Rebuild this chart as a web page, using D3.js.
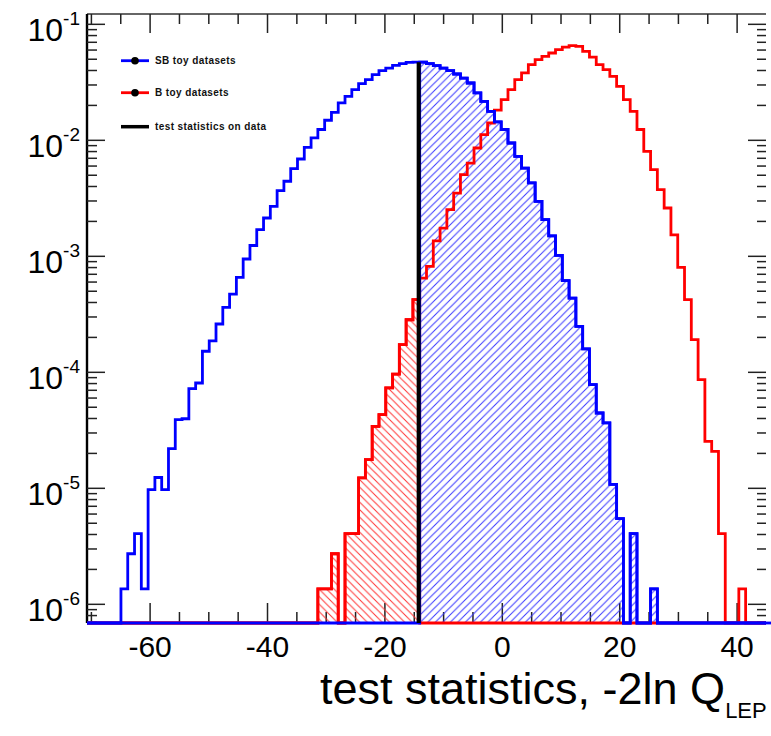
<!DOCTYPE html>
<html>
<head>
<meta charset="utf-8">
<script src="https://cdnjs.cloudflare.com/ajax/libs/d3/7.8.5/d3.min.js"></script>
<style>
  html, body { margin: 0; padding: 0; background: #fff; }
  svg { display: block; }
  text { font-family: "Liberation Sans", Arial, Helvetica, sans-serif; }
</style>
</head>
<body>
<svg id="chart" width="771" height="736"></svg>
<script>
// ---------------- data ----------------
const xMin = -70.75;
const xMax = 44.92;
const nBins = 100;

// SB toy datasets (normalised), one value per bin
const sbValues = [
  0, 0, 0, 0, 0, 1.36e-6, 2.73e-6, 4.07e-6, 1.36e-6, 9.75e-6,
  1.24e-5, 9.75e-6, 2.2e-5, 3.91e-5, 3.98e-5, 7.23e-5, 8.09e-5, 1.52e-4, 1.87e-4, 2.61e-4,
  3.63e-4, 4.73e-4, 6.59e-4, 9.48e-4, 1.24e-3, 1.70e-3, 2.14e-3, 2.70e-3, 3.68e-3, 4.44e-3,
  5.70e-3, 6.90e-3, 8.71e-3, 1.05e-2, 1.24e-2, 1.49e-2, 1.74e-2, 2.10e-2, 2.39e-2, 2.74e-2,
  3.08e-2, 3.34e-2, 3.68e-2, 3.99e-2, 4.20e-2, 4.43e-2, 4.58e-2, 4.70e-2, 4.72e-2, 4.72e-2,
  4.58e-2, 4.41e-2, 4.20e-2, 3.99e-2, 3.73e-2, 3.44e-2, 3.12e-2, 2.56e-2, 2.17e-2, 1.78e-2,
  1.44e-2, 1.24e-2, 9.48e-3, 7.28e-3, 5.77e-3, 4.29e-3, 2.98e-3, 2.07e-3, 1.50e-3, 1.02e-3,
  6.18e-4, 4.36e-4, 2.49e-4, 1.59e-4, 7.83e-5, 4.46e-5, 3.66e-5, 1.08e-5, 5.48e-6, 0,
  4.07e-6, 0, 0, 1.36e-6, 0, 0, 0, 0, 0, 0,
  0, 0, 0, 0, 0, 0, 0, 0, 0, 0
];

// B toy datasets (normalised), one value per bin
const bValues = [
  0, 0, 0, 0, 0, 0, 0, 0, 0, 0,
  0, 0, 0, 0, 0, 0, 0, 0, 0, 0,
  0, 0, 0, 0, 0, 0, 0, 0, 0, 0,
  0, 0, 0, 0, 1.36e-6, 1.36e-6, 2.73e-6, 0, 4.07e-6, 4.07e-6,
  1.23e-5, 1.77e-5, 3.42e-5, 4.31e-5, 7.33e-5, 9.66e-5, 1.73e-4, 2.84e-4, 4.24e-4, 6.50e-4,
  8.20e-4, 1.36e-3, 1.75e-3, 2.53e-3, 3.51e-3, 5.06e-3, 6.37e-3, 8.59e-3, 1.12e-2, 1.41e-2,
  1.82e-2, 2.24e-2, 2.74e-2, 3.34e-2, 3.81e-2, 4.49e-2, 4.97e-2, 5.30e-2, 5.66e-2, 6.05e-2,
  6.37e-2, 6.55e-2, 6.46e-2, 5.85e-2, 5.22e-2, 4.49e-2, 4.07e-2, 3.56e-2, 2.92e-2, 2.24e-2,
  1.78e-2, 1.24e-2, 8.04e-3, 5.59e-3, 3.76e-3, 2.61e-3, 1.53e-3, 8.04e-4, 4.24e-4, 1.91e-4,
  8.65e-5, 2.54e-5, 2.08e-5, 4.07e-6, 0, 0, 1.36e-6, 0, 0, 0
];

const dataValue = -14.25;      // test statistics on data
const dataLineTop = 0.0472;
const xTickValues = [-60, -40, -20, 0, 20, 40];
const xMinorStep = 5;
const yTickExponents = [-6, -5, -4, -3, -2, -1];
const yDomain = [Math.pow(10, -6.161), Math.pow(10, -0.911)];
const legendLabels = ["SB toy datasets", "B toy datasets", "test statistics on data"];
const xTitle = "test statistics, -2ln Q";
const xTitleSub = "LEP";

// ---------------- layout ----------------
const frame = { left: 87, right: 766, top: 14, bottom: 623 };
const svg = d3.select("#chart");

const x = d3.scaleLinear().domain([xMin, xMax]).range([frame.left, frame.right]);
const y = d3.scaleLog().domain(yDomain).range([frame.bottom, frame.top]);
const binW = (xMax - xMin) / nBins;
const edge = i => x(xMin + i * binW);
const yv = v => (v > 0 ? Math.max(frame.top, Math.min(frame.bottom, y(v))) : frame.bottom);

const dataBin = Math.floor((dataValue - xMin) / binW); // bin containing the data value
const sbHatch = sbValues.map((v, i) => (i > dataBin ? v : 0));
const bHatch = bValues.map((v, i) => (i <= dataBin ? v : 0));

function stepPath(vals) {
  const p = d3.path();
  p.moveTo(edge(0), frame.bottom);
  vals.forEach((v, i) => {
    p.lineTo(edge(i), yv(v));
    p.lineTo(edge(i + 1), yv(v));
  });
  p.lineTo(edge(vals.length), frame.bottom);
  return p.toString();
}

// hatch patterns
const defs = svg.append("defs");
defs.append("pattern").attr("id", "hatchBlue").attr("patternUnits", "userSpaceOnUse")
  .attr("width", 7.5).attr("height", 7.5)
  .append("path").attr("d", "M-1,1 l2,-2 M0,7.5 l7.5,-7.5 M6.5,8.5 l2,-2")
  .attr("stroke", "#3a3aff").attr("stroke-width", 1).attr("fill", "none");
defs.append("pattern").attr("id", "hatchRed").attr("patternUnits", "userSpaceOnUse")
  .attr("width", 7.5).attr("height", 7.5)
  .append("path").attr("d", "M-1,6.5 l2,2 M0,0 l7.5,7.5 M6.5,-1 l2,2")
  .attr("stroke", "#ff3333").attr("stroke-width", 1).attr("fill", "none");
defs.append("clipPath").attr("id", "frameClip").append("rect")
  .attr("x", frame.left).attr("y", frame.top)
  .attr("width", frame.right - frame.left + 6).attr("height", frame.bottom - frame.top + 2);

// frame axis lines
svg.append("line").attr("x1", frame.left).attr("x2", frame.right)
  .attr("y1", frame.top).attr("y2", frame.top).attr("stroke", "#333").attr("stroke-width", 1.4);
svg.append("line").attr("x1", frame.left).attr("x2", frame.left)
  .attr("y1", frame.top).attr("y2", frame.bottom).attr("stroke", "#000").attr("stroke-width", 2.4);
svg.append("line").attr("x1", frame.left).attr("x2", frame.right)
  .attr("y1", frame.bottom).attr("y2", frame.bottom).attr("stroke", "#000").attr("stroke-width", 2);

// x ticks (bottom and top)
const xMinor = d3.range(-70, xMax, xMinorStep).filter(v => !xTickValues.includes(v) && v >= xMin);
const tickG = svg.append("g").attr("stroke", "#222").attr("stroke-width", 1.5);
xTickValues.forEach(v => {
  tickG.append("line").attr("x1", x(v)).attr("x2", x(v)).attr("y1", frame.bottom).attr("y2", frame.bottom - 20);
  tickG.append("line").attr("x1", x(v)).attr("x2", x(v)).attr("y1", frame.top).attr("y2", frame.top + 19);
});
xMinor.forEach(v => {
  tickG.append("line").attr("x1", x(v)).attr("x2", x(v)).attr("y1", frame.bottom).attr("y2", frame.bottom - 11);
  tickG.append("line").attr("x1", x(v)).attr("x2", x(v)).attr("y1", frame.top).attr("y2", frame.top + 10);
});

// y ticks (left and right)
const yMajor = yTickExponents.map(e => Math.pow(10, e));
const yMinor = [];
for (let e = -7; e <= -1; e++) for (let k = 2; k <= 9; k++) {
  const v = k * Math.pow(10, e);
  if (v >= yDomain[0] && v <= yDomain[1]) yMinor.push(v);
}
yMajor.forEach(v => {
  tickG.append("line").attr("x1", frame.left).attr("x2", frame.left + 18).attr("y1", y(v)).attr("y2", y(v));
  tickG.append("line").attr("x1", frame.right).attr("x2", frame.right - 18).attr("y1", y(v)).attr("y2", y(v));
});
yMinor.forEach(v => {
  tickG.append("line").attr("x1", frame.left).attr("x2", frame.left + 10).attr("y1", y(v)).attr("y2", y(v));
  tickG.append("line").attr("x1", frame.right).attr("x2", frame.right - 9).attr("y1", y(v)).attr("y2", y(v));
});

// tick labels
svg.append("g").selectAll("text").data(xTickValues).join("text")
  .attr("x", d => x(d)).attr("y", 657).attr("text-anchor", "middle")
  .attr("font-size", 30).attr("fill", "#000").text(d => d);

const yl = svg.append("g").selectAll("text").data(yTickExponents).join("text")
  .attr("x", 80).attr("y", d => y(Math.pow(10, d)) + 17).attr("text-anchor", "end").attr("fill", "#000");
yl.append("tspan").attr("font-size", 32).text("10");
yl.append("tspan").attr("font-size", 19).attr("dy", -16).text(d => d);

// x title
const xt = svg.append("text").attr("x", 320).attr("y", 704).attr("fill", "#000");
xt.append("tspan").attr("font-size", 45).text(xTitle);
xt.append("tspan").attr("font-size", 22).attr("dy", 14).text(xTitleSub);

// histograms
const plot = svg.append("g").attr("clip-path", "url(#frameClip)");
plot.append("path").attr("d", stepPath(bHatch) + "Z").attr("fill", "url(#hatchRed)").attr("stroke", "none");
plot.append("path").attr("d", stepPath(sbHatch) + "Z").attr("fill", "url(#hatchBlue)").attr("stroke", "none");

const lw = 2.8;
plot.append("path").attr("d", stepPath(bValues)).attr("fill", "none").attr("stroke", "#ff0000").attr("stroke-width", lw);
plot.append("path").attr("d", stepPath(bHatch)).attr("fill", "none").attr("stroke", "#ff0000").attr("stroke-width", lw);
plot.append("path").attr("d", stepPath(sbValues)).attr("fill", "none").attr("stroke", "#0000ff").attr("stroke-width", lw);
plot.append("path").attr("d", stepPath(sbHatch)).attr("fill", "none").attr("stroke", "#0000ff").attr("stroke-width", lw);

// extend blue baseline to image edge
svg.append("line").attr("x1", frame.right - 1).attr("x2", 771).attr("y1", frame.bottom).attr("y2", frame.bottom)
  .attr("stroke", "#0000ff").attr("stroke-width", lw);

// data line
svg.append("line").attr("x1", x(dataValue)).attr("x2", x(dataValue))
  .attr("y1", frame.bottom).attr("y2", y(dataLineTop))
  .attr("stroke", "#000").attr("stroke-width", 4);

// legend
const legendColors = ["#0000ff", "#ff0000", "#000000"];
const legendY = [60.7, 92.7, 126.7];
const lg = svg.append("g");
legendLabels.forEach((lab, i) => {
  lg.append("line").attr("x1", 121).attr("x2", 149).attr("y1", legendY[i]).attr("y2", legendY[i])
    .attr("stroke", legendColors[i]).attr("stroke-width", i === 2 ? 3.5 : 2.8);
  if (i < 2) lg.append("circle").attr("cx", 135).attr("cy", legendY[i]).attr("r", 3.8).attr("fill", "#000");
  lg.append("text").attr("x", 155).attr("y", legendY[i] + 3.5)
    .attr("font-size", 10).attr("font-weight", "bold").attr("letter-spacing", 0.4)
    .attr("fill", "#111").text(lab);
});
</script>
</body>
</html>
